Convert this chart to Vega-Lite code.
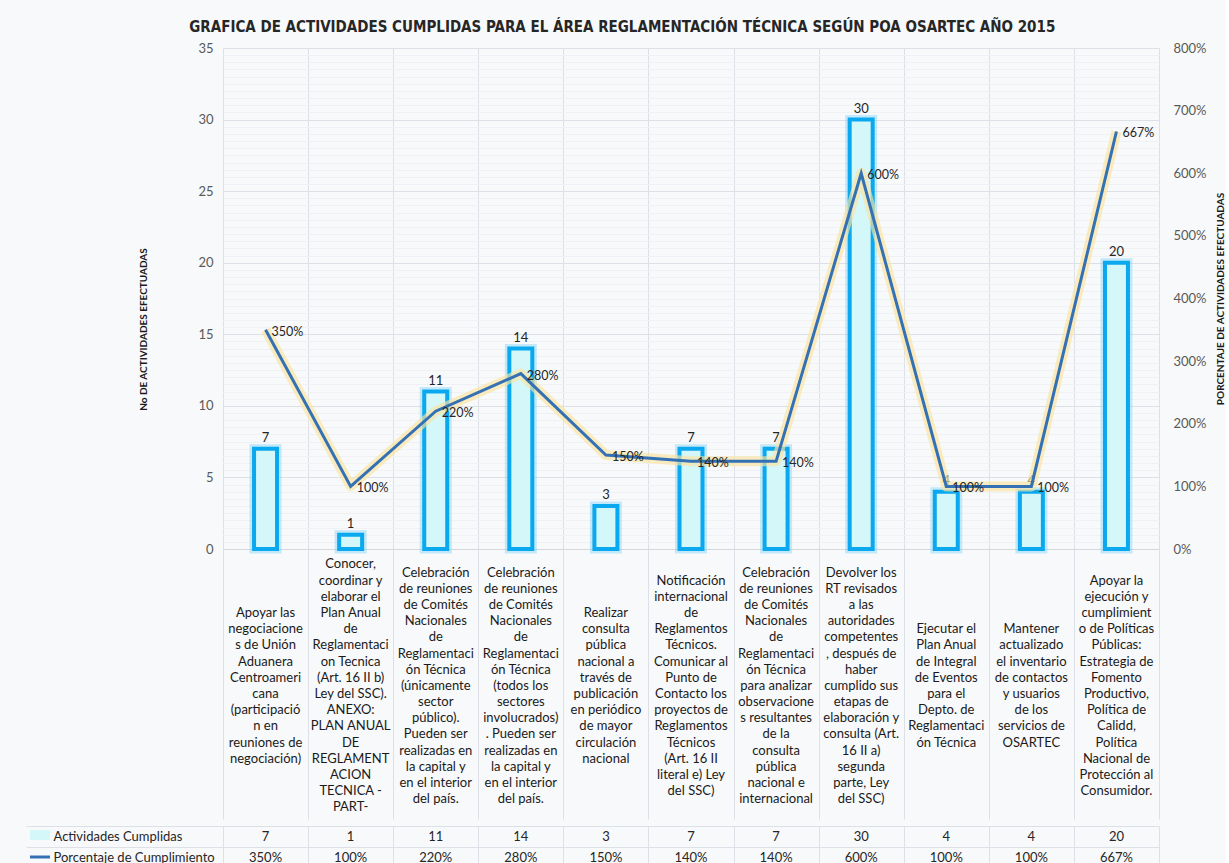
{
  "$schema": "https://vega.github.io/schema/vega-lite/v6.json",
  "background": "#f8f9fa",
  "padding": {"left": 25, "top": 20, "right": 0, "bottom": 0},
  "config": {
    "view": {"stroke": null},
    "font": "Lato",
    "axis": {"labelFont": "Lato", "titleFont": "Lato"}
  },
  "title": {
    "text": "GRAFICA DE ACTIVIDADES CUMPLIDAS PARA EL ÁREA REGLAMENTACIÓN TÉCNICA SEGÚN POA OSARTEC AÑO 2015",
    "font": "DejaVu Sans Condensed",
    "fontSize": 15,
    "fontWeight": "bold",
    "color": "#262626",
    "anchor": "middle",
    "dx": -3,
    "offset": 7
  },
  "data": {
    "values": [
      {"actividad": "Apoyar las\nnegociacione\ns de Unión\nAduanera\nCentroameri\ncana\n(participació\nn en\nreuniones de\nnegociación)", "actividades": 7, "porcentaje": 3.5},
      {"actividad": "Conocer,\ncoordinar y\nelaborar el\nPlan Anual\nde\nReglamentaci\non Tecnica\n(Art. 16 II b)\nLey del SSC).\nANEXO:\nPLAN ANUAL\nDE\nREGLAMENT\nACION\nTECNICA -\nPART-", "actividades": 1, "porcentaje": 1.0},
      {"actividad": "Celebración\nde reuniones\nde Comités\nNacionales\nde\nReglamentaci\nón Técnica\n(únicamente\nsector\npúblico).\nPueden ser\nrealizadas en\nla capital y\nen el interior\ndel país.", "actividades": 11, "porcentaje": 2.2},
      {"actividad": "Celebración\nde reuniones\nde Comités\nNacionales\nde\nReglamentaci\nón Técnica\n(todos los\nsectores\ninvolucrados)\n. Pueden ser\nrealizadas en\nla capital y\nen el interior\ndel país. ", "actividades": 14, "porcentaje": 2.8},
      {"actividad": "Realizar\nconsulta\npública\nnacional a\ntravés de\npublicación\nen periódico\nde mayor\ncirculación\nnacional", "actividades": 3, "porcentaje": 1.5},
      {"actividad": "Notificación\ninternacional\nde\nReglamentos\nTécnicos.\nComunicar al\nPunto de\nContacto los\nproyectos de\nReglamentos\nTécnicos\n(Art. 16 II\nliteral e) Ley\ndel SSC)", "actividades": 7, "porcentaje": 1.4},
      {"actividad": "Celebración\nde reuniones\nde Comités\nNacionales\nde\nReglamentaci\nón Técnica\npara analizar\nobservacione\ns resultantes\nde la\nconsulta\npública\nnacional e\ninternacional", "actividades": 7, "porcentaje": 1.4},
      {"actividad": "Devolver los\nRT revisados\na las\nautoridades\ncompetentes\n, después de\nhaber\ncumplido sus\netapas de\nelaboración y\nconsulta (Art.\n16 II a)\nsegunda\nparte, Ley\ndel SSC)", "actividades": 30, "porcentaje": 6.0},
      {"actividad": "Ejecutar el\nPlan Anual\nde Integral\nde Eventos\npara el\nDepto. de\nReglamentaci\nón Técnica", "actividades": 4, "porcentaje": 1.0},
      {"actividad": "Mantener\nactualizado\nel inventario\nde contactos\ny  usuarios\nde los\nservicios de\nOSARTEC", "actividades": 4, "porcentaje": 1.0},
      {"actividad": "Apoyar la\nejecución y\ncumplimient\no de Políticas\nPúblicas:\nEstrategia de\nFomento\nProductivo,\nPolítica de\nCalidd,\nPolítica\nNacional de\nProtección al\nConsumidor.", "actividades": 20, "porcentaje": 6.6667}
    ]
  },
  "spacing": 0,
  "resolve": {"scale": {"color": "independent"}, "legend": {"color": "independent"}},
  "vconcat": [
    {
      "width": 936,
      "height": 501,
      "encoding": {
        "x": {
          "field": "actividad",
          "type": "nominal",
          "sort": null,
          "scale": {"paddingInner": 0, "paddingOuter": 0},
          "axis": {
            "title": null,
            "tickBand": "extent",
            "ticks": true,
            "tickSize": 270,
            "tickColor": "#dde1e7",
            "grid": true,
            "gridColor": "#dde1e7",
            "domain": true,
            "domainColor": "#d4d7dc",
            "labels": false
          }
        }
      },
      "layer": [
        {
          "encoding": {
            "y": {
              "field": "actividades",
              "type": "quantitative",
              "scale": {"domain": [0, 35]},
              "axis": {
                "values": [0, 0.5, 1, 1.5, 2, 2.5, 3, 3.5, 4, 4.5, 5, 5.5, 6, 6.5, 7, 7.5, 8, 8.5, 9, 9.5, 10, 10.5, 11, 11.5, 12, 12.5, 13, 13.5, 14, 14.5, 15, 15.5, 16, 16.5, 17, 17.5, 18, 18.5, 19, 19.5, 20, 20.5, 21, 21.5, 22, 22.5, 23, 23.5, 24, 24.5, 25, 25.5, 26, 26.5, 27, 27.5, 28, 28.5, 29, 29.5, 30, 30.5, 31, 31.5, 32, 32.5, 33, 33.5, 34, 34.5, 35],
                "labelExpr": "datum.value % 5 === 0 ? format(datum.value, 'd') : ''",
                "grid": true,
                "gridColor": {"condition": {"test": "datum.value % 5 === 0", "value": "#dde1e7"}, "value": "#eff1f4"},
                "domain": false,
                "ticks": false,
                "labelColor": "#595959",
                "labelFontSize": 13,
                "labelPadding": 10,
                "title": "No DE ACTIVIDADES EFECTUADAS",
                "titleFontSize": 10,
                "titleFontWeight": "bold",
                "titleColor": "#1a1a1a",
                "titlePadding": 49,
                "titleY": 281
              }
            }
          },
          "layer": [
            {
              "mark": {"type": "bar", "width": {"band": 0.27}, "fillOpacity": 0, "stroke": "#5ec9f6", "strokeWidth": 9, "strokeOpacity": 0.35}
            },
            {
              "mark": {"type": "bar", "width": {"band": 0.27}, "fill": "#d4f7fa", "stroke": "#0aa9ef", "strokeWidth": 4}
            },
            {
              "mark": {"type": "text", "baseline": "bottom", "dy": -4, "fontSize": 13, "color": "#262626"},
              "encoding": {"text": {"field": "actividades", "type": "quantitative"}}
            },
            {
              "mark": {
                "type": "text",
                "baseline": "top",
                "align": "center",
                "lineBreak": "\n",
                "lineHeight": 16.2,
                "fontSize": 13,
                "color": "#1a1a1a",
                "dy": {"expr": "139 - length(split(datum.actividad, '\\n')) * 8.1"}
              },
              "encoding": {
                "y": {"datum": 0},
                "text": {"field": "actividad", "type": "nominal"}
              }
            }
          ]
        },
        {
          "encoding": {
            "y": {
              "field": "porcentaje",
              "type": "quantitative",
              "scale": {"domain": [0, 8]},
              "axis": {
                "orient": "right",
                "values": [0, 1, 2, 3, 4, 5, 6, 7, 8],
                "format": ".0%",
                "grid": false,
                "domain": false,
                "ticks": false,
                "labelColor": "#595959",
                "labelFontSize": 13,
                "labelPadding": 14,
                "title": "PORCENTAJE  DE ACTIVIDADES EFECTUADAS",
                "titleAngle": 270,
                "titleFontSize": 10,
                "titleFontWeight": "bold",
                "titleColor": "#1a1a1a",
                "titlePadding": 19
              }
            }
          },
          "layer": [
            {
              "mark": {"type": "line", "stroke": "#fbe3a0", "strokeWidth": 10, "strokeOpacity": 0.65, "strokeJoin": "round"}
            },
            {
              "mark": {"type": "line", "stroke": "#3471b4", "strokeWidth": 3, "strokeJoin": "miter"}
            },
            {
              "mark": {"type": "text", "align": "left", "baseline": "middle", "dx": 6, "dy": 2, "fontSize": 12.5, "color": "#262626"},
              "encoding": {"text": {"field": "porcentaje", "type": "quantitative", "format": ".0%"}}
            }
          ]
        }
      ],
      "resolve": {"scale": {"y": "independent"}}
    },
    {
      "width": 936,
      "height": 42,
      "encoding": {
        "x": {
          "field": "actividad",
          "type": "nominal",
          "sort": null,
          "scale": {"paddingInner": 0, "paddingOuter": 0},
          "axis": {
            "title": null,
            "labels": false,
            "ticks": false,
            "domain": true,
            "domainColor": "#dde1e7",
            "grid": true,
            "gridColor": "#dde1e7",
            "tickBand": "extent"
          }
        }
      },
      "layer": [
        {
          "mark": {"type": "text", "fontSize": 13, "color": "#262626"},
          "encoding": {
            "y": {
              "datum": "Actividades Cumplidas",
              "type": "nominal",
              "scale": {"type": "band", "domain": ["Actividades Cumplidas", "Porcentaje de Cumplimiento"], "paddingInner": 0, "paddingOuter": 0},
              "axis": {
                "title": null,
                "tickBand": "extent",
                "ticks": true,
                "tickSize": 197,
                "tickColor": "#dde1e7",
                "grid": true,
                "gridColor": "#dde1e7",
                "domain": true,
                "domainColor": "#dde1e7",
                "labelAlign": "left",
                "labelBaseline": "middle",
                "labelPadding": -27,
                "labelFontSize": 13,
                "labelColor": "#262626"
              }
            },
            "text": {"field": "actividades", "type": "quantitative"}
          }
        },
        {
          "mark": {"type": "text", "fontSize": 13, "color": "#262626"},
          "encoding": {
            "y": {"datum": "Porcentaje de Cumplimiento", "type": "nominal"},
            "text": {"field": "porcentaje", "type": "quantitative", "format": ".0%"}
          }
        },
        {
          "mark": {"type": "text", "fontSize": 13},
          "encoding": {
            "y": {"datum": "Actividades Cumplidas", "type": "nominal"},
            "text": {"value": ""},
            "color": {
              "datum": "Actividades Cumplidas",
              "type": "nominal",
              "scale": {"domain": ["Actividades Cumplidas", "Porcentaje de Cumplimiento"], "range": ["#d4f7fa", "#3471b4"]},
              "legend": {
                "orient": "none",
                "legendX": -189,
                "legendY": 3,
                "title": null,
                "labelExpr": "''",
                "symbolSize": 100,
                "symbolOpacity": 1,
                "rowPadding": 8,
                "padding": 0,
                "encode": {
                  "symbols": {
                    "update": {
                      "stroke": {"value": "transparent"},
                      "shape": {"signal": "datum.value === 'Actividades Cumplidas' ? 'M-2,-1H2V1H-2Z' : 'M-2,-0.3H2V0.3H-2Z'"}
                    }
                  }
                }
              }
            }
          }
        },
        {
          "mark": {"type": "text", "fontSize": 13},
          "encoding": {
            "y": {"datum": "Porcentaje de Cumplimiento", "type": "nominal"},
            "text": {"value": ""},
            "color": {"datum": "Porcentaje de Cumplimiento", "type": "nominal"}
          }
        }
      ]
    }
  ]
}
